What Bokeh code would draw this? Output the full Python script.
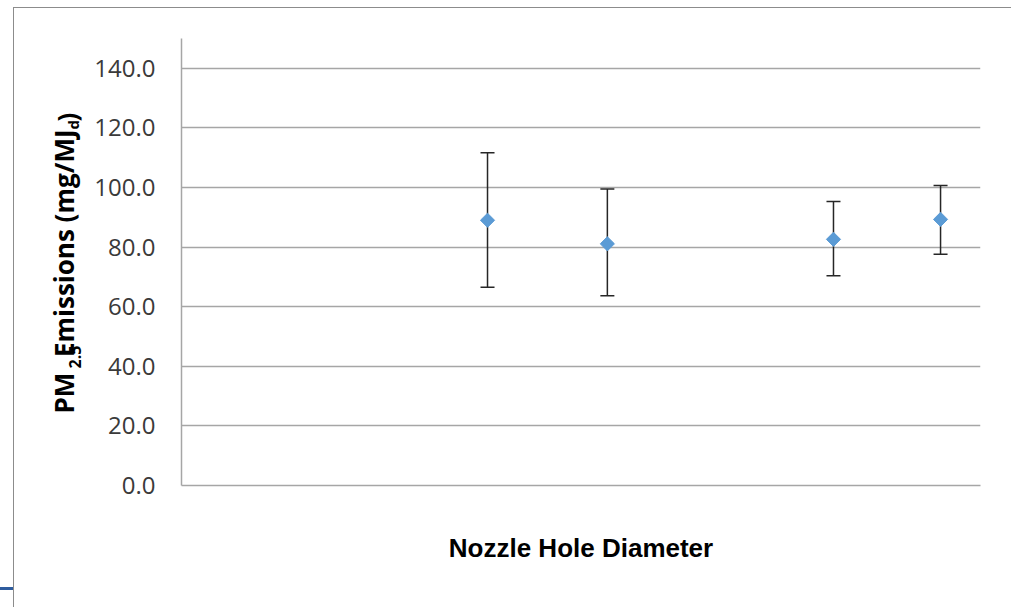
import math
from bokeh.plotting import figure
from bokeh.models import (Range1d, FixedTicker, PrintfTickFormatter, ColumnDataSource,
                          Whisker, TeeHead, Label, InlineStyleSheet)
from bokeh.embed import file_html
from bokeh.resources import INLINE

# ---- data ----
diameters = [0.766, 1.066, 1.632, 1.900]
pm25_mean = [89.0, 81.1, 82.6, 89.3]
pm25_upper = [111.7, 99.5, 95.3, 100.7]
pm25_lower = [66.5, 63.7, 70.4, 77.6]
y_ticks = [0, 20, 40, 60, 80, 100, 120, 140]
x_title = "Nozzle Hole Diameter"
y_title_parts = ["PM", "2.5", "Emissions (mg/MJ", "d", ")"]

GRID = "#a6a6a6"
TXT = "#3a3a3a"

p = figure(width=998, height=600, x_range=Range1d(0, 2), y_range=Range1d(0, 150),
           output_backend="svg", toolbar_location=None,
           min_border_left=167, min_border_right=32, min_border_top=30,
           min_border_bottom=123)
p.outline_line_color = None
p.background_fill_color = "white"
p.border_fill_color = "white"
p.styles = {"margin-left": "13px", "margin-top": "7px",
            "border-left": "1px solid #8c8c8c", "border-top": "1px solid #8c8c8c",
            "position": "relative"}
p.stylesheets = [InlineStyleSheet(css=":host::after{content:'';position:absolute;left:-14px;top:579px;width:13px;height:3px;background:#2e5c9e;}")]

p.xaxis.ticker = FixedTicker(ticks=[])
p.xaxis.axis_line_color = GRID
p.xaxis.axis_line_width = 1.5
p.xaxis.axis_label = x_title
p.xaxis.axis_label_standoff = 47
p.xaxis.axis_label_text_font = "Liberation Sans"
p.xaxis.axis_label_text_font_style = "bold"
p.xaxis.axis_label_text_font_size = "26px"
p.xaxis.axis_label_text_color = "black"
p.xgrid.visible = False

p.yaxis.ticker = FixedTicker(ticks=y_ticks)
p.yaxis.formatter = PrintfTickFormatter(format="%.1f")
p.yaxis.major_tick_line_color = None
p.yaxis.major_tick_out = 0
p.yaxis.major_label_standoff = 26
p.yaxis.major_label_text_font = "Open Sans"
p.yaxis.major_label_text_font_size = "24px"
p.yaxis.major_label_text_color = TXT
p.yaxis.axis_line_color = GRID
p.yaxis.axis_line_width = 1.5
p.ygrid.grid_line_color = GRID
p.ygrid.grid_line_width = 1.5

src = ColumnDataSource(dict(x=diameters, mean=pm25_mean, upper=pm25_upper, lower=pm25_lower))
p.add_layout(Whisker(source=src, base="x", upper="upper", lower="lower", dimension="height",
             line_color="#262626", line_width=1.5, level="underlay",
             upper_head=TeeHead(size=14, line_color="#262626", line_width=1.5),
             lower_head=TeeHead(size=14, line_color="#262626", line_width=1.5)))
p.scatter("x", "mean", source=src, marker="square", size=10, angle=math.pi / 4,
          fill_color="#5b9bd5", line_color="#5b9bd5")

# y-axis title pieces (placed in side panels so they are not clipped)
def vlabel(text, x, y, size, align="left"):
    return Label(x=x, y=y, x_units="screen", y_units="screen", text=text,
                 angle=math.pi / 2, text_align=align, text_baseline="alphabetic",
                 text_font="Open Sans", text_font_style="bold",
                 text_font_size=f"{size}px", text_color="black")

pm, sub25, emis, subd, close = y_title_parts
p.add_layout(vlabel(emis, 8.5, 356, 26, "right"), "left")
p.add_layout(vlabel(pm, 44.5, 72, 26), "left")
p.add_layout(vlabel(sub25, -906, 117, 16), "right")
p.add_layout(vlabel(subd, -109, -91, 15), "above")
p.add_layout(vlabel(close, -115, -92, 26), "above")

open("out.html", "w").write(file_html(p, INLINE))
